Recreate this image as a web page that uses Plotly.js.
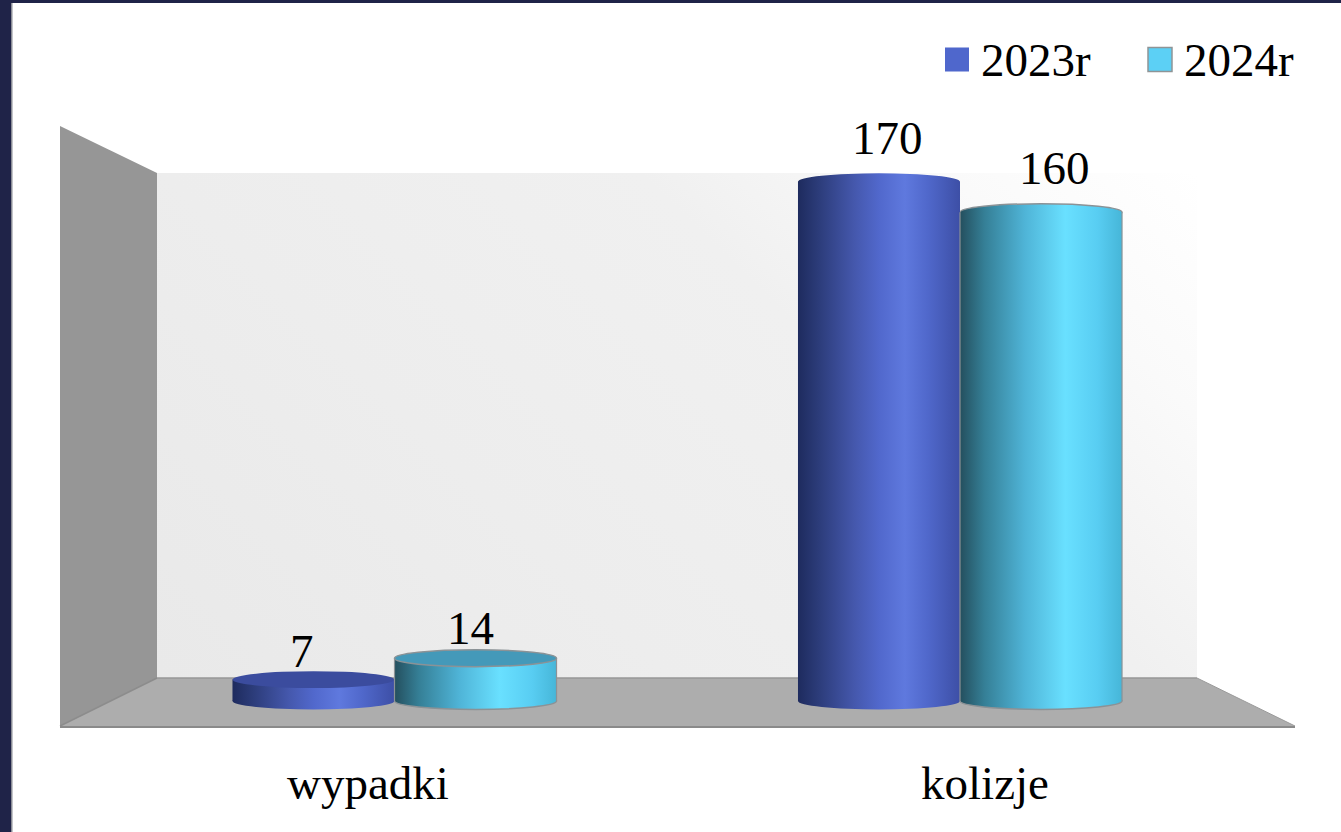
<!DOCTYPE html>
<html>
<head>
<meta charset="utf-8">
<script src="https://cdn.plot.ly/plotly-3.0.1.min.js"></script>
<style>html,body{margin:0;padding:0;background:#fff;overflow:hidden}</style>
</head>
<body>
<div id="chart" style="width:1341px;height:832px"></div>
<script>
const categories = ['wypadki', 'kolizje'];
const series2023 = [7, 170];
const series2024 = [14, 160];
const seriesNames = ['2023r', '2024r'];

const W = 1341, H = 832;
const box = {l: 60, r: 1295, t: 126, b: 726};
const FONT = '"Liberation Serif","Times New Roman",serif';
const FS = 47;
const barHalf = 0.2865;
const capH = 2.75;
const tallAt = 100;

const px = x => (x - box.l) / (box.r - box.l);
const py = y => (box.b - y) / (box.b - box.t);
const poly = pts => 'M' + pts.map(p => px(p[0]) + ',' + py(p[1])).join('L') + 'Z';
const paperShape = (pts, fill, line, layer) => ({
  type: 'path', xref: 'paper', yref: 'paper', layer: layer || 'below',
  path: poly(pts), fillcolor: fill,
  line: line ? {color: line, width: 1} : {width: 0}
});

const shapes = [
  paperShape([[0,0],[11,0],[11,832],[0,832]], '#1f2348'),
  paperShape([[0,0],[1341,0],[1341,3],[0,3]], '#1f2348'),
  paperShape([[11,3],[12.5,3],[12.5,832],[11,832]], '#8a8c96'),
  paperShape([[60,126],[157,173],[157,678],[60,726]], '#969696'),
  paperShape([[157,173],[1197,173],[1197,678],[157,678]], '#eeeeee'),
  paperShape([[157,678],[1197,678],[1295,726],[60,726]], '#adadad')
];
const WALL_INDEX = 4;
shapes.push({type:'line', xref:'paper', yref:'paper', layer:'below',
  x0:px(60), y0:py(726), x1:px(157), y1:py(678), line:{color:'#8c8c8c', width:1.5}});
shapes.push({type:'line', xref:'paper', yref:'paper', layer:'below',
  x0:px(157), y0:py(678), x1:px(1197), y1:py(678), line:{color:'#979797', width:1.5}});
shapes.push({type:'line', xref:'paper', yref:'paper', layer:'below',
  x0:px(1197), y0:py(678), x1:px(1295), y1:py(726), line:{color:'#9a9a9a', width:1}});

const gradientShapes = [];
function cylinder(i, v, s) {
  const x0 = s === 0 ? i - barHalf : i;
  const x1 = x0 + barHalf;
  const grad = s === 0 ? 'gradBlue' : 'gradCyan';
  const edge = s === 1 ? {color:'#8b9296', width:1.5} : {width:0};
  gradientShapes.push([shapes.length, grad]);
  shapes.push({type:'circle', xref:'x', yref:'y', layer:'below', x0, x1,
    y0:-capH, y1:capH, fillcolor: s === 0 ? '#4f67cc' : '#5cd0f5', line:edge});
  if (v > tallAt) {
    gradientShapes.push([shapes.length, grad]);
    shapes.push({type:'circle', xref:'x', yref:'y', layer:'below', x0, x1,
      y0:v-capH, y1:v+capH, fillcolor: s === 0 ? '#4f67cc' : '#5cd0f5', line:edge});
  } else {
    shapes.push({type:'circle', xref:'x', yref:'y', layer:'above', x0, x1,
      y0:v-capH, y1:v+capH, fillcolor: s === 0 ? '#3b4c9e' : '#4499b9', line:edge});
  }
  if (s === 1) {
    [x0, x1].forEach(x => shapes.push({type:'line', xref:'x', yref:'y', layer:'above',
      x0:x, x1:x, y0:0, y1:v, line:{color:'#8b9296', width:1.2}}));
  }
}
[series2023, series2024].forEach((vals, s) => vals.forEach((v, i) => cylinder(i, v, s)));

const labelShift = {7:[-11,1], 14:[-5,2], 170:[9,16], 160:[13,16]};
const annotations = [];
[series2023, series2024].forEach((vals, s) => vals.forEach((v, i) => {
  annotations.push({
    xref:'x', yref:'y', x: i + (s === 0 ? -barHalf/2 : barHalf/2), y: v,
    text: String(v), showarrow:false, xanchor:'center', yanchor:'bottom',
    xshift: labelShift[v][0], yshift: labelShift[v][1],
    font:{family:FONT, size:FS, color:'#000'}
  });
}));

const barTrace = (vals, name, color) => ({
  type:'bar', x:categories, y:vals, name, marker:{color, line:{width:0}},
  hoverinfo:'skip', xaxis:'x', yaxis:'y'
});
const traces = [
  barTrace(series2023, seriesNames[0], '#4f67cc'),
  barTrace(series2024, seriesNames[1], '#5cd0f5'),
  {type:'scatter', mode:'none', x:categories, y:[0,0], xaxis:'x2', yaxis:'y',
   showlegend:false, hoverinfo:'skip'}
];

const xPitch = 565.5, xAt0 = 394.5;
const lPitch = 617, lAt0 = 368;
const yZero = 701, yUnit = 3.055;

const layout = {
  width:W, height:H, autosize:false,
  margin:{l:box.l, r:W-box.r, t:box.t, b:H-box.b, pad:0},
  paper_bgcolor:'#ffffff', plot_bgcolor:'rgba(0,0,0,0)',
  barmode:'group', bargap:1-2*barHalf, bargroupgap:0,
  font:{family:FONT, size:FS, color:'#000'},
  showlegend:true,
  legend:{orientation:'h', xref:'container', yref:'container', x:933/W, y:1-58/H, xanchor:'left', yanchor:'middle',
    traceorder:'normal', font:{family:FONT, size:FS, color:'#000'},
    bgcolor:'rgba(0,0,0,0)', itemwidth:38, entrywidth:150, entrywidthmode:'pixels'},
  xaxis:{type:'category', categoryarray:categories, categoryorder:'array',
    range:[(box.l-xAt0)/xPitch, (box.r-xAt0)/xPitch], showticklabels:false, ticks:'',
    showgrid:false, zeroline:false, showline:true, linecolor:'#8a8a8a', linewidth:2, fixedrange:true},
  xaxis2:{type:'category', categoryarray:categories, categoryorder:'array', overlaying:'x',
    anchor:'y', side:'bottom',
    range:[(box.l-lAt0)/lPitch, (box.r-lAt0)/lPitch], showgrid:false, zeroline:false, showline:false,
    ticks:'outside', ticklen:16, tickcolor:'rgba(0,0,0,0)', tickfont:{family:FONT, size:FS, color:'#000'},
    fixedrange:true},
  yaxis:{range:[(yZero-box.b)/yUnit, (yZero-box.t)/yUnit], visible:false, fixedrange:true},
  shapes, annotations
};

function stops(id, list, attrs) {
  const g = document.createElementNS('http://www.w3.org/2000/svg', 'linearGradient');
  g.setAttribute('id', id);
  Object.keys(attrs).forEach(k => g.setAttribute(k, attrs[k]));
  list.forEach(s => {
    const st = document.createElementNS('http://www.w3.org/2000/svg', 'stop');
    st.setAttribute('offset', s[0]); st.setAttribute('stop-color', s[1]);
    g.appendChild(st);
  });
  return g;
}
function decorate() {
  const svg = document.querySelector('#chart svg.main-svg');
  if (!document.getElementById('gradBlue')) {
    const defs = document.createElementNS('http://www.w3.org/2000/svg', 'defs');
    const h = {x1:0, y1:0, x2:1, y2:0};
    defs.appendChild(stops('gradBlue', [[0,'#1e2b5e'],[0.12,'#2b3b78'],[0.35,'#4558ad'],[0.5,'#5168cc'],[0.66,'#5f79de'],[0.8,'#5068cb'],[1,'#3d4fa6']], h));
    defs.appendChild(stops('gradCyan', [[0,'#244f5e'],[0.15,'#357f96'],[0.4,'#4fb4d7'],[0.65,'#69e0ff'],[0.85,'#58cdf2'],[1,'#46b6d8']], h));
    defs.appendChild(stops('gradWall', [[0,'#ffffff'],[0.16,'#fafafa'],[0.26,'#f5f5f5'],[0.36,'#f0f0f0'],[0.67,'#ededed'],[1,'#e9e9e9']],
      {gradientUnits:'userSpaceOnUse', x1:1197, y1:173, x2:432, y2:945}));
    svg.insertBefore(defs, svg.firstChild);
  }
  const paint = (i, g) => document.querySelectorAll('.shapelayer path[data-index="'+i+'"]')
    .forEach(p => { p.style.fill = 'url(#'+g+')'; p.style.fillOpacity = 1; });
  paint(WALL_INDEX, 'gradWall');
  gradientShapes.forEach(a => paint(a[0], a[1]));
  const bars = document.querySelectorAll('.barlayer .trace');
  bars.forEach((t, k) => t.querySelectorAll('.point path').forEach(p => {
    p.style.fill = 'url(#' + (k === 0 ? 'gradBlue' : 'gradCyan') + ')';
  }));
  document.querySelectorAll('.legend .legendpoints path').forEach((p, k) => {
    p.setAttribute('d', 'M12,14H-12V-10H12Z');
    if (k === 1) { p.style.stroke = '#8f9496'; p.style.strokeWidth = '1.5px'; }
  });
}
const gd = document.getElementById('chart');
Plotly.newPlot(gd, traces, layout, {staticPlot:true, displayModeBar:false}).then(() => {
  decorate();
  gd.on('plotly_afterplot', decorate);
});
</script>
</body>
</html>
